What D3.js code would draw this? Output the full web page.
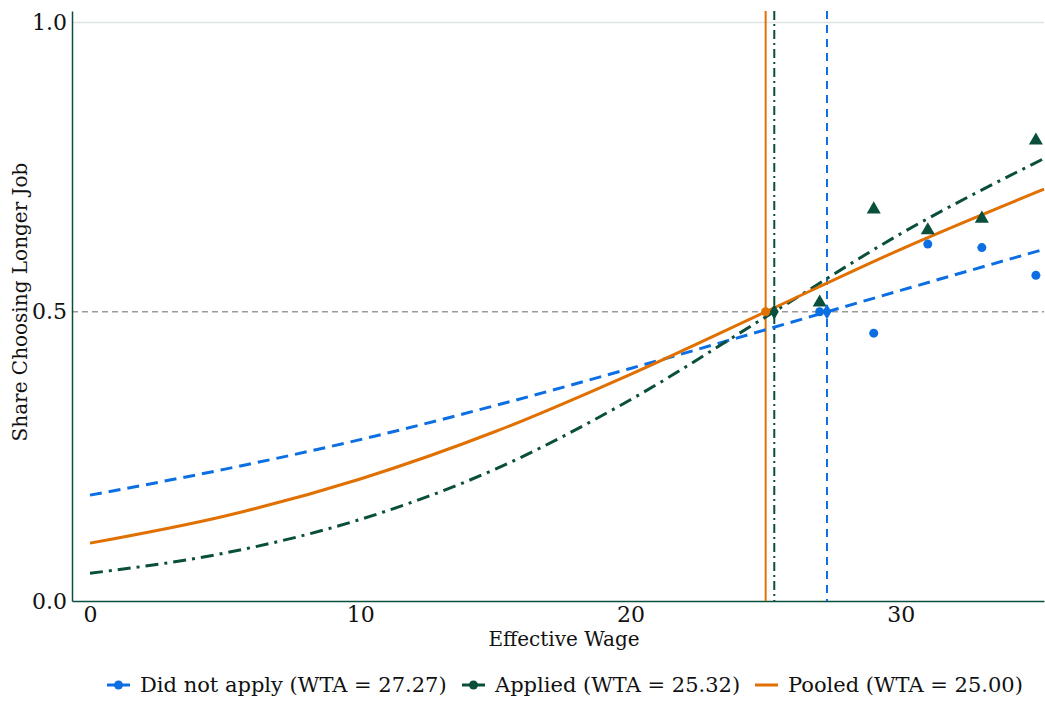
<!DOCTYPE html>
<html>
<head>
<meta charset="utf-8">
<script src="https://cdn.jsdelivr.net/npm/d3@7"></script>
<style>
  body { margin: 0; background: #fff; }
  svg text { font-family: "DejaVu Serif", serif; fill: #111; }
</style>
</head>
<body>
<div id="chart"></div>
<script>
const width = 1045;
const height = 702;

// fitted curves
const curveX = [0, 5, 10, 15, 20, 25, 30, 35.3];
const notAppliedCurve = [0.183, 0.228, 0.279, 0.338, 0.402, 0.469, 0.537, 0.608];
const appliedCurve = [0.048, 0.083, 0.141, 0.228, 0.348, 0.491, 0.635, 0.765];
const pooledCurve = [0.100, 0.147, 0.211, 0.293, 0.392, 0.500, 0.608, 0.712];

// binned observed shares
const binX = [27, 29, 31, 33, 35];
const notAppliedShare = [0.500, 0.463, 0.617, 0.611, 0.563];
const appliedShare = [0.516, 0.677, 0.641, 0.661, 0.796];

// willingness to accept (where curve crosses 0.5)
const wtaNotApplied = 27.27;
const wtaApplied = 25.32;
const wtaPooled = 25.00;

const xTicks = [0, 10, 20, 30];
const yTicks = [0, 0.5, 1.0];

const blue = "#0b6fe3";
const green = "#0a4f3c";
const orange = "#e07000";

const svg = d3.select("#chart")
    .append("svg")
    .attr("width", width)
    .attr("height", height);

const x = d3.scaleLinear().domain([-0.665, 35.3]).range([72, 1044]);
const y = d3.scaleLinear().domain([0, 1.02]).range([601, 11]);

// gridline at 1.0 and reference at 0.5
svg.append("line")
    .attr("x1", x.range()[0]).attr("x2", x.range()[1])
    .attr("y1", y(1)).attr("y2", y(1))
    .attr("stroke", "#dde3e3").attr("stroke-width", 1.5);

svg.append("line")
    .attr("x1", x.range()[0]).attr("x2", x.range()[1])
    .attr("y1", y(0.5)).attr("y2", y(0.5))
    .attr("stroke", "#9a9a9a").attr("stroke-width", 1.5)
    .attr("stroke-dasharray", "6,4");

// axes
const xAxis = svg.append("g")
    .attr("transform", `translate(0,${y(0)})`)
    .call(d3.axisBottom(x).tickValues(xTicks).tickSize(0).tickPadding(5).tickFormat(d3.format("d")));

const yAxis = svg.append("g")
    .attr("transform", `translate(${x.range()[0]},0)`)
    .call(d3.axisLeft(y).tickValues(yTicks).tickSize(0).tickPadding(5).tickFormat(d3.format(".1f")));

[xAxis, yAxis].forEach(a => {
    a.attr("font-family", null).attr("font-size", null);
    a.select(".domain").attr("stroke", green).attr("stroke-width", 1.5);
    a.selectAll("text").style("font-size", "22px").attr("fill", "#111");
});

svg.append("text")
    .attr("x", 564).attr("y", 646)
    .attr("text-anchor", "middle")
    .style("font-size", "20px")
    .text("Effective Wage");

svg.append("text")
    .attr("transform", `translate(27,302) rotate(-90)`)
    .attr("text-anchor", "middle")
    .style("font-size", "20px")
    .text("Share Choosing Longer Job");

// vertical WTA lines
const vlines = [
    { v: wtaPooled, color: orange, dash: null, w: 2 },
    { v: wtaApplied, color: green, dash: "9,4,2,4", w: 2 },
    { v: wtaNotApplied, color: blue, dash: "8,6", w: 2 }
];
svg.selectAll(".vline")
    .data(vlines)
    .enter().append("line")
    .attr("x1", d => x(d.v)).attr("x2", d => x(d.v))
    .attr("y1", y.range()[1]).attr("y2", y(0))
    .attr("stroke", d => d.color)
    .attr("stroke-width", d => d.w)
    .attr("stroke-dasharray", d => d.dash);

// fitted curves
const line = d3.line()
    .x(d => x(d[0]))
    .y(d => y(d[1]))
    .curve(d3.curveMonotoneX);

const curves = [
    { vals: notAppliedCurve, color: blue, dash: "12,7" },
    { vals: appliedCurve, color: green, dash: "13,6,3,6" },
    { vals: pooledCurve, color: orange, dash: null }
];
svg.selectAll(".fit")
    .data(curves)
    .enter().append("path")
    .attr("d", d => line(curveX.map((v, i) => [v, d.vals[i]])))
    .attr("fill", "none")
    .attr("stroke", d => d.color)
    .attr("stroke-width", 3)
    .attr("stroke-dasharray", d => d.dash);

// observed points
svg.selectAll(".dna")
    .data(binX.map((v, i) => [v, notAppliedShare[i]]))
    .enter().append("circle")
    .attr("cx", d => x(d[0])).attr("cy", d => y(d[1]))
    .attr("r", 4.5)
    .attr("fill", blue);

const tri = d3.symbol().type(d3.symbolTriangle).size(85);
svg.selectAll(".app")
    .data(binX.map((v, i) => [v, appliedShare[i]]))
    .enter().append("path")
    .attr("d", tri)
    .attr("transform", d => `translate(${x(d[0])},${y(d[1])})`)
    .attr("fill", green);

// WTA markers on the 0.5 line
const diamond = d3.symbol().type(d3.symbolDiamond).size(70);
svg.append("path").attr("d", diamond)
    .attr("transform", `translate(${x(wtaNotApplied)},${y(0.5)})`).attr("fill", blue);
svg.append("path").attr("d", diamond)
    .attr("transform", `translate(${x(wtaApplied)},${y(0.5)})`).attr("fill", green);
svg.append("circle")
    .attr("cx", x(wtaPooled)).attr("cy", y(0.5)).attr("r", 4.5).attr("fill", orange);

// legend
const legendItems = [
    { label: `Did not apply (WTA = ${wtaNotApplied.toFixed(2)})`, color: blue, marker: true, x0: 107 },
    { label: `Applied (WTA = ${wtaApplied.toFixed(2)})`, color: green, marker: true, x0: 462 },
    { label: `Pooled (WTA = ${wtaPooled.toFixed(2)})`, color: orange, marker: false, x0: 755 }
];
const lg = svg.selectAll(".legend")
    .data(legendItems)
    .enter().append("g")
    .attr("transform", d => `translate(${d.x0},685)`);

lg.append("line")
    .attr("x1", 0).attr("x2", 23)
    .attr("stroke", d => d.color).attr("stroke-width", 3);
lg.filter(d => d.marker).append("circle")
    .attr("cx", 11.5).attr("r", 4.5)
    .attr("fill", d => d.color);
lg.append("text")
    .attr("x", 33).attr("y", 7)
    .style("font-size", "21px")
    .text(d => d.label);
</script>
</body>
</html>
